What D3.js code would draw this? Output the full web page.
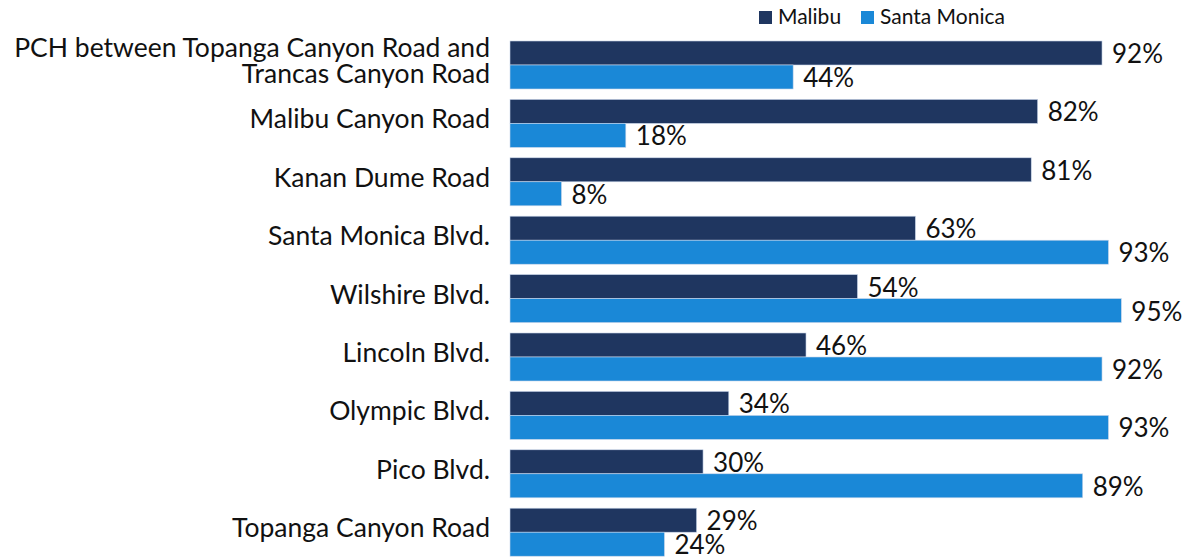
<!DOCTYPE html>
<html>
<head>
<meta charset="utf-8">
<script src="https://cdn.jsdelivr.net/npm/d3@7"></script>
<style>
  html, body { margin: 0; padding: 0; background: #ffffff; }
  svg { display: block; }
  text { font-family: Lato, "Noto Sans", sans-serif; fill: #111111; }
</style>
</head>
<body>
<svg id="chart" width="1191" height="559"></svg>
<script>
// Road names, one entry per row (lines separated by "\n")
const categories = [
  "PCH between Topanga Canyon Road and\nTrancas Canyon Road",
  "Malibu Canyon Road",
  "Kanan Dume Road",
  "Santa Monica Blvd.",
  "Wilshire Blvd.",
  "Lincoln Blvd.",
  "Olympic Blvd.",
  "Pico Blvd.",
  "Topanga Canyon Road"
];
const seriesNames = ["Malibu", "Santa Monica"];
const malibu = [92, 82, 81, 63, 54, 46, 34, 30, 29];
const santaMonica = [44, 18, 8, 93, 95, 92, 93, 89, 24];
const seriesColors = ["#1f3660", "#1a88d7"];

const svg = d3.select("#chart");

const x = d3.scaleLinear().domain([0, 100]).range([510, 1153.5]);
const y = d3.scaleBand().domain(categories).range([35.8, 561.4])
  .paddingInner(0.178).paddingOuter(0.089);
const sub = d3.scaleBand().domain(seriesNames).range([0, y.bandwidth()]);

const rows = categories.map((c, i) => ({
  cat: c,
  values: [
    { key: seriesNames[0], v: malibu[i] },
    { key: seriesNames[1], v: santaMonica[i] }
  ]
}));

const color = d3.scaleOrdinal().domain(seriesNames).range(seriesColors);

const g = svg.append("g");
const groups = g.selectAll("g.row").data(rows).join("g")
  .attr("class", "row")
  .attr("transform", d => `translate(0,${y(d.cat)})`);

groups.selectAll("rect").data(d => d.values).join("rect")
  .attr("x", x(0))
  .attr("y", d => sub(d.key))
  .attr("width", d => x(d.v) - x(0))
  .attr("height", sub.bandwidth())
  .attr("fill", d => color(d.key))
  .attr("stroke", "#c9d6ea")
  .attr("stroke-width", 0.6);

groups.selectAll("text.val").data(d => d.values).join("text")
  .attr("class", "val")
  .attr("x", d => x(d.v) + 10)
  .attr("y", d => sub(d.key) + sub.bandwidth() / 2 + 10)
  .attr("font-size", 26)
  .text(d => d.v + "%");

// Category labels on the left, right aligned
groups.each(function(d) {
  const lines = d.cat.split("\n");
  const lh = 26;
  const cy = y.bandwidth() / 2;
  const t = d3.select(this).append("text")
    .attr("text-anchor", "end")
    .attr("font-size", 26.5);
  lines.forEach((ln, k) => {
    t.append("tspan")
      .attr("x", 490)
      .attr("y", cy + 5 + (k - (lines.length - 1) / 2) * lh)
      .text(ln);
  });
});

// Legend
const legend = svg.append("g");
const legendX = [759, 861];
seriesNames.forEach((s, i) => {
  legend.append("rect")
    .attr("x", legendX[i]).attr("y", 11)
    .attr("width", 13).attr("height", 13)
    .attr("fill", seriesColors[i]);
  legend.append("text")
    .attr("x", legendX[i] + 19).attr("y", 24)
    .attr("font-size", 21)
    .text(s);
});
</script>
</body>
</html>
